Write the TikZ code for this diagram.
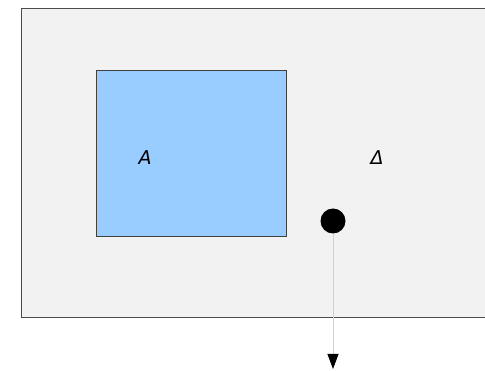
\documentclass[tikz,border=0pt]{standalone}
\usepackage{fontspec}
\setsansfont{DejaVu Sans}
\usetikzlibrary{arrows.meta,positioning}
\definecolor{subsetblue}{HTML}{99CCFF}
\definecolor{regiongrey}{HTML}{F2F2F2}

\begin{document}
\begin{tikzpicture}[x=1pt, y=-1pt,
  region/.style={rectangle, draw=black!70, line width=1.2pt, fill=regiongrey, inner sep=0pt},
  subset/.style={rectangle, draw=black!75, line width=1pt, fill=subsetblue, inner sep=0pt},
  point/.style={circle, fill=black, inner sep=0pt, minimum size=25pt},
  set label/.style={font=\sffamily\itshape\fontsize{19}{21}\selectfont, inner sep=0pt},
  >={Triangle[width=11pt, length=15pt, color=black]}
]
  \useasboundingbox (0,0) rectangle (485,371);
  \clip (0,0) rectangle (485,371);
  \node[region, anchor=north west, minimum width=480pt, minimum height=309pt] (omega) at (21,8) {};
  \node[subset, anchor=north west, minimum width=190pt, minimum height=166pt] (setA) at (96,70) {};
  % labels
  \node[set label] (labA) at (145,158) {A};
  \node[set label] (labD) at (377,158) {Δ};
  % point and exit arrow
  \node[point] (pt) at (333,221) {};
  \coordinate (out) at (333,369);
  \draw[->, draw=black!18, line width=0.8pt] (pt) -- (out);
\end{tikzpicture}
\end{document}
